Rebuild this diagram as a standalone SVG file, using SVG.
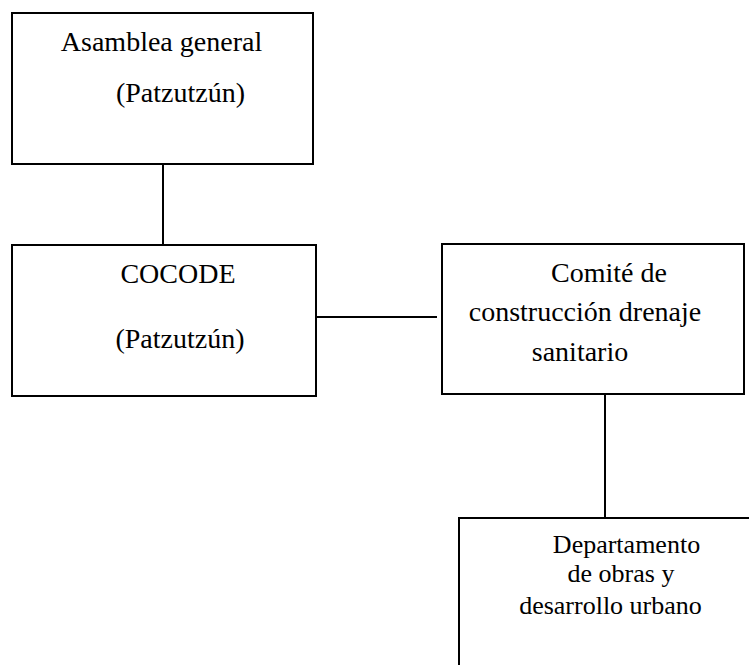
<svg xmlns="http://www.w3.org/2000/svg" width="749" height="665" viewBox="0 0 749 665">
<style>
.box{fill:none;stroke:#000;stroke-width:2}
.conn{fill:none;stroke:#000;stroke-width:2}
</style>
<rect width="749" height="665" fill="#fff"/>
<g id="connectors">
<line class="conn" x1="163" y1="164" x2="163" y2="245"/>
<line class="conn" x1="316" y1="317" x2="437" y2="317"/>
<line class="conn" x1="605" y1="394" x2="605" y2="518"/>
</g>
<g id="asamblea">
<rect class="box" x="12" y="13" width="301" height="151"/>
<text font-family="Liberation Serif" font-size="28" text-anchor="middle" x="161.5" y="51">Asamblea general</text>
<text font-family="Liberation Serif" font-size="28" text-anchor="middle" x="180.5" y="102">(Patzutzún)</text>
</g>
<g id="cocode">
<rect class="box" x="12" y="245" width="304" height="151"/>
<text font-family="Liberation Serif" font-size="28" text-anchor="middle" x="178" y="283">COCODE</text>
<text font-family="Liberation Serif" font-size="28" text-anchor="middle" x="180" y="348">(Patzutzún)</text>
</g>
<g id="comite">
<rect class="box" x="442" y="244" width="302" height="150"/>
<text font-family="Liberation Serif" font-size="28" text-anchor="middle" x="609" y="282">Comité de</text>
<text font-family="Liberation Serif" font-size="28" text-anchor="middle" x="585" y="321">construcción drenaje</text>
<text font-family="Liberation Serif" font-size="28" text-anchor="middle" x="580" y="361">sanitario</text>
</g>
<g id="departamento">
<path class="box" d="M749,518 H459 V665"/>
<text font-family="Liberation Serif" font-size="26" text-anchor="middle" x="626.5" y="553">Departamento</text>
<text font-family="Liberation Serif" font-size="26" text-anchor="middle" x="621" y="582">de obras y</text>
<text font-family="Liberation Serif" font-size="26" text-anchor="middle" x="610.5" y="614">desarrollo urbano</text>
</g>
</svg>
